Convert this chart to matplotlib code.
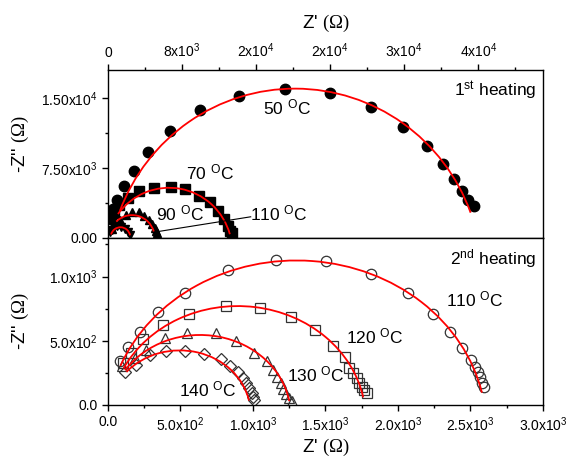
import matplotlib
matplotlib.use('Agg')
import matplotlib.pyplot as plt
from matplotlib.patches import Arc
from matplotlib.ticker import MultipleLocator, FixedLocator, FixedFormatter

plt.rcParams['font.family'] = ['Liberation Sans', 'DejaVu Sans']
plt.rcParams['mathtext.fontset'] = 'custom'
plt.rcParams['mathtext.rm'] = 'Liberation Serif'
plt.rcParams['mathtext.sf'] = 'Liberation Sans'
plt.rcParams['mathtext.it'] = 'Liberation Sans:italic'

# ---- 1st heating (top panel) ----
x50 = [318, 588, 980, 1686, 2784, 4275, 6666, 9996, 14190, 19170, 24030, 28380,
       31870, 34420, 36180, 37360, 38260, 38930, 39510]
y50 = [2020, 3100, 4080, 5518, 7175, 9230, 11470, 13670, 15220, 15980, 15510, 14030,
       11930, 9880, 7970, 6310, 5010, 4110, 3390]
x70 = [650, 1200, 2200, 3400, 4950, 6780, 8350, 9840, 11020, 11880, 12550, 12980, 13220, 13370]
y70 = [2700, 3500, 4300, 5000, 5380, 5440, 5270, 4545, 3860, 2920, 2020, 1300, 760, 510]
x90 = [400, 800, 1300, 1900, 2600, 3350, 3900, 4430, 4790, 5050, 5200, 5300]
y90 = [1000, 1500, 1930, 2450, 2800, 2820, 2400, 1930, 1470, 1040, 750, 500]
x110a = [200, 400, 700, 1000, 1400, 1800, 2150, 2400]
y110a = [600, 900, 1150, 1250, 1200, 1000, 650, 300]

# fit arcs: (x centre, y centre, radius, start angle, end angle)
fits_top = [(20200, -4200, 20200, 20.0, 159.4),
            (6600, -1444, 6824, 15.7, 144.0),
            (2600, 0, 2450, 16.6, 134.2),
            (1350, 100, 1050, 10.0, 165.0)]

# ---- 2nd heating (bottom panel) ----
x110 = [80, 138, 220, 346, 533, 826, 1159, 1505, 1815, 2068, 2244, 2361, 2444, 2504,
        2529, 2549, 2567, 2579, 2592]
y110 = [345, 449, 570, 721, 872, 1047, 1125, 1117, 1016, 872, 708, 565, 443, 349,
        292, 253, 214, 174, 141]
x120 = [103, 161, 239, 381, 561, 814, 1050, 1260, 1430, 1550, 1634, 1664, 1692, 1715,
        1733, 1750, 1766, 1784]
y120 = [325, 407, 511, 623, 708, 772, 758, 685, 580, 460, 370, 290, 246, 208,
        169, 140, 115, 95]
x130 = [95, 184, 264, 391, 547, 745, 885, 1010, 1100, 1135, 1165, 1190, 1210, 1230, 1250, 1272]
y130 = [300, 363, 428, 519, 558, 562, 500, 408, 340, 275, 220, 172, 128, 88, 55, 28]
x140 = [115, 195, 288, 400, 530, 660, 780, 845, 895, 928, 955, 975, 990, 1000, 1010]
y140 = [259, 311, 389, 422, 420, 400, 355, 305, 255, 210, 170, 130, 95, 65, 40]

fits_bot = [(1300, -184, 1309, 12.35, 158.1),
            (895, -112, 882, 11.2, 153.3),
            (635, -80, 625, 10.1, 145.9),
            (495, -62, 487, 11.4, 139.0)]

top_xticks = [0, 8000, 16000, 24000, 32000, 40000]
top_xlabels = ['0', r'8x10$^{\mathsf{3}}$', r'2x10$^{\mathsf{4}}$', r'2x10$^{\mathsf{4}}$',
               r'3x10$^{\mathsf{4}}$', r'4x10$^{\mathsf{4}}$']
top_yticks = [0, 7500, 15000]
top_ylabels = ['0.00', r'7.50x10$^{\mathsf{3}}$', r'1.50x10$^{\mathsf{4}}$']
bot_xticks = [0, 500, 1000, 1500, 2000, 2500, 3000]
bot_xlabels = ['0.0', r'5.0x10$^{\mathsf{2}}$', r'1.0x10$^{\mathsf{3}}$', r'1.5x10$^{\mathsf{3}}$',
               r'2.0x10$^{\mathsf{3}}$', r'2.5x10$^{\mathsf{3}}$', r'3.0x10$^{\mathsf{3}}$']
bot_yticks = [0, 500, 1000]
bot_ylabels = ['0.0', r'5.0x10$^{\mathsf{2}}$', r'1.0x10$^{\mathsf{3}}$']

zlabel = r"Z' $\mathrm{(\Omega)}$"
zzlabel = r"-Z'' $\mathrm{(\Omega)}$"

fig = plt.figure(figsize=(5.71, 4.63), dpi=100)
ax1 = fig.add_axes([0.1891, 0.4860, 0.7618, 0.3629])
ax2 = fig.add_axes([0.1891, 0.1253, 0.7618, 0.3607])

# top panel
ax1.plot(x50, y50, 'o', color='black', ms=7.5, zorder=2)
ax1.plot(x70, y70, 's', color='black', ms=6.5, zorder=2)
ax1.plot(x90, y90, '^', color='black', ms=6, zorder=2)
ax1.plot(x110a, y110a, 'v', color='black', ms=6, zorder=2)
for xc, yc, r, t1, t2 in fits_top:
    ax1.add_patch(Arc((xc, yc), 2 * r, 2 * r, theta1=t1, theta2=t2,
                      edgecolor='red', lw=1.3, zorder=3))
ax1.plot([15420, 5610], [2270, 720], color='black', lw=0.8, zorder=4)

ax1.set_xlim(0, 47000)
ax1.set_ylim(0, 18000)
ax1.xaxis.set_ticks_position('top')
ax1.xaxis.set_label_position('top')
ax1.xaxis.set_major_locator(FixedLocator(top_xticks))
ax1.xaxis.set_major_formatter(FixedFormatter(top_xlabels))
ax1.xaxis.set_minor_locator(MultipleLocator(4000))
ax1.yaxis.set_major_locator(FixedLocator(top_yticks))
ax1.yaxis.set_major_formatter(FixedFormatter(top_ylabels))
ax1.yaxis.set_minor_locator(MultipleLocator(3750))
ax1.tick_params(which='both', direction='out', top=True, bottom=False, left=True, right=False,
                labelsize=10, width=1)
ax1.tick_params(which='major', length=4.5, pad=3)
ax1.tick_params(which='minor', length=2.5)
ax1.set_xlabel(zlabel, fontsize=13.5)
ax1.xaxis.set_label_coords(0.5, 1.25)
ax1.set_ylabel(zzlabel, fontsize=13.5)
ax1.yaxis.set_label_coords(-0.178, 0.56)

ax1.text(0.985, 0.876, r'1$^{\mathsf{st}}$ heating', transform=ax1.transAxes,
         ha='right', va='center', fontsize=12.5)
ax1.text(19380, 13970, r'50 $^{\mathsf{O}}$C', ha='center', va='center', fontsize=12.5)
ax1.text(11030, 7020, r'70 $^{\mathsf{O}}$C', ha='center', va='center', fontsize=12.5)
ax1.text(7810, 2590, r'90 $^{\mathsf{O}}$C', ha='center', va='center', fontsize=12.5)
ax1.text(18480, 2590, r'110 $^{\mathsf{O}}$C', ha='center', va='center', fontsize=12.5)

# bottom panel
ax2.plot(x110, y110, 'o', mfc='none', mec='#333333', mew=0.9, ms=7.5, zorder=2)
ax2.plot(x120, y120, 's', mfc='none', mec='#333333', mew=0.9, ms=6.5, zorder=2)
ax2.plot(x130, y130, '^', mfc='none', mec='#333333', mew=0.9, ms=7.5, zorder=2)
ax2.plot(x140, y140, 'D', mfc='none', mec='#333333', mew=0.9, ms=6.5, zorder=2)
for xc, yc, r, t1, t2 in fits_bot:
    ax2.add_patch(Arc((xc, yc), 2 * r, 2 * r, theta1=t1, theta2=t2,
                      edgecolor='red', lw=1.3, zorder=3))

ax2.set_xlim(0, 3000)
ax2.set_ylim(0, 1300)
ax2.xaxis.set_major_locator(FixedLocator(bot_xticks))
ax2.xaxis.set_major_formatter(FixedFormatter(bot_xlabels))
ax2.xaxis.set_minor_locator(MultipleLocator(250))
ax2.yaxis.set_major_locator(FixedLocator(bot_yticks))
ax2.yaxis.set_major_formatter(FixedFormatter(bot_ylabels))
ax2.yaxis.set_minor_locator(MultipleLocator(250))
ax2.tick_params(which='both', direction='out', top=False, bottom=True, left=True, right=False,
                labelsize=10, width=1)
ax2.tick_params(which='major', length=4.5, pad=3)
ax2.tick_params(which='minor', length=2.5)
ax2.set_xlabel(zlabel, fontsize=13.5)
ax2.xaxis.set_label_coords(0.5, -0.19)
ax2.set_ylabel(zzlabel, fontsize=13.5)
ax2.yaxis.set_label_coords(-0.178, 0.504)

ax2.text(0.985, 0.875, r'2$^{\mathsf{nd}}$ heating', transform=ax2.transAxes,
         ha='right', va='center', fontsize=12.5)
ax2.text(2529, 825, r'110 $^{\mathsf{O}}$C', ha='center', va='center', fontsize=12.5)
ax2.text(1838, 531, r'120 $^{\mathsf{O}}$C', ha='center', va='center', fontsize=12.5)
ax2.text(1435, 234, r'130 $^{\mathsf{O}}$C', ha='center', va='center', fontsize=12.5)
ax2.text(689, 122, r'140 $^{\mathsf{O}}$C', ha='center', va='center', fontsize=12.5)

for ax in (ax1, ax2):
    for s in ax.spines.values():
        s.set_linewidth(1.0)

fig.savefig('out.png', dpi=100)
